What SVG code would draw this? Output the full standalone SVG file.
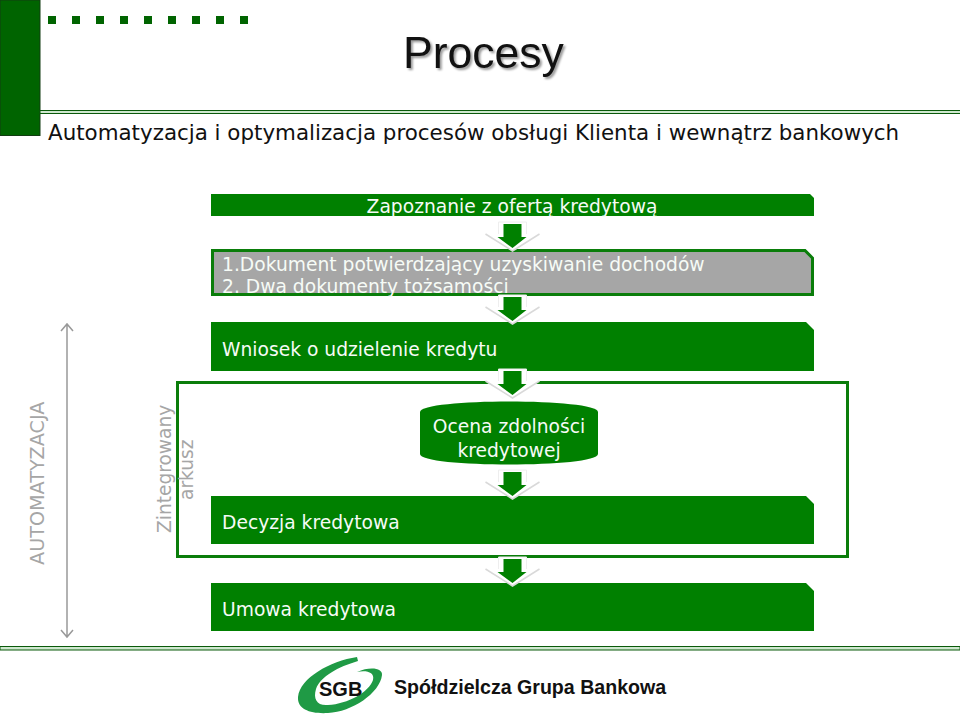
<svg xmlns="http://www.w3.org/2000/svg" width="960" height="720" viewBox="0 0 960 720">
<style>
text{font-family:"DejaVu Sans",Verdana,sans-serif}
.w{fill:#f6fbf6;font-size:18.700px}
.box{fill:#008000}
.rule{fill:#cfe8cf;stroke:#0a5a0a;stroke-width:1}
.side{fill:#a6a6a6}
.ax{stroke:#999;stroke-width:1.500;fill:none}
.brand{font-family:"Liberation Sans",Arial,sans-serif;font-weight:bold;fill:#111}
</style>
<defs>
<g id="arr">
<polygon points="-14,0 14,0 14,12 27,12 0,29 -27,12 -14,12" fill="#fff"/>
<polyline points="-27,12 0,29 27,12" fill="none" stroke="#d9d9d9" stroke-width="1.500"/>
<polyline points="-14,12 -14,0 14,0 14,12" fill="none" stroke="#eeeeee" stroke-width="1"/>
<polygon points="-9,2 9,2 9,15 14,15 0,26 -15,15 -9,15" fill="#008000"/>
</g>
</defs>
<rect width="960" height="720" fill="#fff"/>
<g id="header">
<rect x="0" y="0" width="40" height="135.500" fill="#006400" stroke="#123c12" stroke-width="1"/>
<g fill="#006400"><rect x="48" y="16" width="8" height="8"/><rect x="72" y="16" width="8" height="8"/><rect x="96" y="16" width="8" height="8"/><rect x="120" y="16" width="8" height="8"/><rect x="144" y="16" width="8" height="8"/><rect x="168" y="16" width="8" height="8"/><rect x="192" y="16" width="8" height="8"/><rect x="216" y="16" width="8" height="8"/><rect x="240" y="16" width="8" height="8"/></g>
<rect class="rule" x="40" y="110.500" width="921" height="3"/>
<text x="403" y="68" font-size="44.500" fill="#111" style="font-family:'Liberation Sans',Arial,sans-serif;filter:drop-shadow(2px 2px 1px #999)">Procesy</text>
<text x="48" y="140" font-size="21.400" fill="#111">Automatyzacja i optymalizacja procesów obsługi Klienta i wewnątrz bankowych</text>
</g>
<g id="container"><rect x="177.500" y="382.500" width="670" height="174" fill="none" stroke="#0a7d0a" stroke-width="3"/></g>
<g id="n1"><path class="box" d="M211 194H810L814 198V216H211Z"/><text class="w" x="512" y="213" text-anchor="middle">Zapoznanie z ofertą kredytową</text></g>
<g id="n2"><path d="M212.500 250.500H805L812.500 258V294.500H212.500Z" fill="#a6a6a6" stroke="#0a7d0a" stroke-width="3"/><text class="w" x="222" y="270.500">1.Dokument potwierdzający uzyskiwanie dochodów</text><text class="w" x="222" y="293">2. Dwa dokumenty tożsamości</text></g>
<g id="n3"><path class="box" d="M211 322H806L814 330V371H211Z"/><text class="w" x="222" y="355.500">Wniosek o udzielenie kredytu</text></g>
<g id="n4"><path class="box" d="M420 412C420 398 598 398 598 412V454C598 468 420 468 420 454Z"/><text class="w" x="509" y="433" text-anchor="middle">Ocena zdolności</text><text class="w" x="509" y="456.500" text-anchor="middle">kredytowej</text></g>
<g id="n5"><path class="box" d="M211 496H806L814 504V544H211Z"/><text class="w" x="222" y="529">Decyzja kredytowa</text></g>
<g id="n6"><path class="box" d="M211 583H806L814 591V631H211Z"/><text class="w" x="222" y="616">Umowa kredytowa</text></g>
<g id="connectors">
<use href="#arr" x="512.500" y="222"/><use href="#arr" x="512.500" y="295"/><use href="#arr" x="512.500" y="369"/><use href="#arr" x="512.500" y="470"/><use href="#arr" x="512.500" y="557"/>
<path class="ax" d="M67 324V637M61 331L67 324L73 331M61 630L67 637L73 630"/>
</g>
<g id="labels">
<text class="side" font-size="19.200" transform="translate(44 565) rotate(-90)">AUTOMATYZACJA</text>
<text class="side" font-size="18.600" transform="translate(171 533) rotate(-90)">Zintegrowany</text>
<text class="side" font-size="18.600" transform="translate(193 500) rotate(-90)">arkusz</text>
</g>
<g id="footer">
<rect class="rule" x="0" y="646.500" width="960" height="3.500"/>
<path d="M357 657C330 661 300 678 298 697C297 710 312 714 328 713C352 712 380 693 382 675C383 668 370 666 357 672C366 670 375 672 373 680C369 692 348 704 328 705C317 706 313 699 316 689C321 676 338 667 358 661Z" fill="#1f9a45"/>
<text class="brand" x="319" y="696" font-size="20">SGB</text>
<text class="brand" x="394" y="694" font-size="19.600">Spółdzielcza Grupa Bankowa</text>
</g>
</svg>
